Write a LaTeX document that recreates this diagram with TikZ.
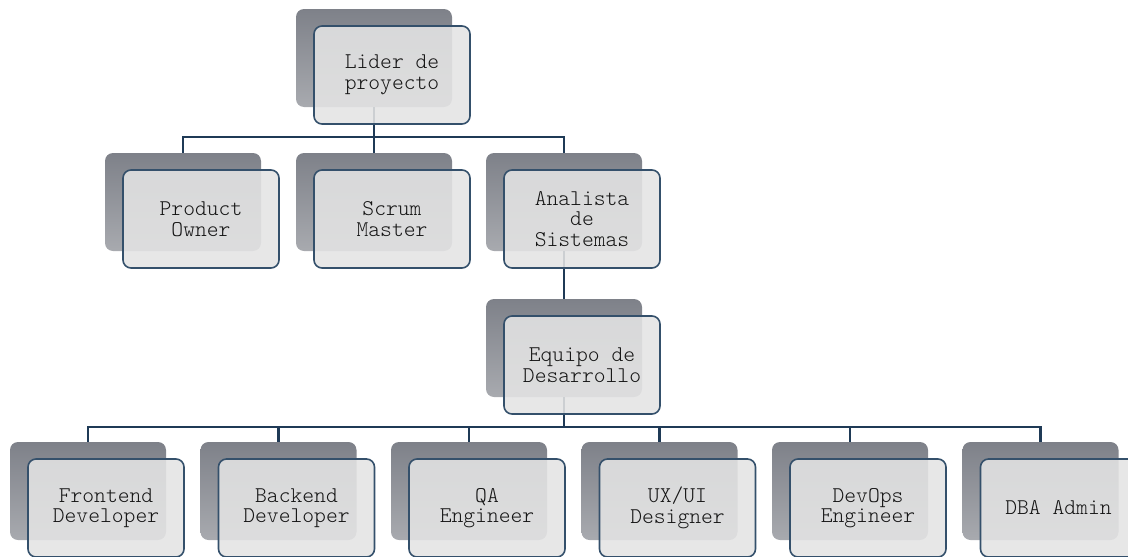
\documentclass[tikz,border=0pt]{standalone}
\usepackage{fontspec}
\definecolor{linec}{HTML}{1F3A56}
\definecolor{frontline}{HTML}{34506B}
\definecolor{frontfill}{HTML}{E4E4E4}
\definecolor{backtop}{HTML}{7E8189}
\definecolor{backbot}{HTML}{A8AAAF}
\definecolor{textc}{HTML}{151515}
\tikzset{
  backbox/.style={rounded corners=8pt, minimum width=156pt, minimum height=98pt, inner sep=0pt,
    top color=backtop, bottom color=backbot, draw=none},
  frontbox/.style={rounded corners=8pt, minimum width=156pt, minimum height=98pt, inner sep=0pt,
    fill=frontfill, fill opacity=0.88, text opacity=1, draw=frontline, line width=1.6pt,
    align=center, text=textc, font=\ttfamily\fontseries{l}\fontsize{22.5}{20.5}\selectfont},
  link/.style={draw=linec, line width=2.4pt}
}
\newcommand\backat[3]{\node[backbox] (#1) at (#2+78,#3+49) {};}
\newcommand\frontat[4]{\node[frontbox] (#1) at (#2+96,#3+66) {#4};}
\begin{document}
\begin{tikzpicture}[x=1pt,y=-1pt]
\useasboundingbox (0,0) rectangle (1128,557);
% back boxes
\backat{lidb}{296}{9}
\backat{pob}{105}{153}
\backat{smb}{296}{153}
\backat{anb}{486}{153}
\backat{eqb}{486}{299}
\backat{feb}{10}{442}
\backat{beb}{200.5}{442}
\backat{qab}{391}{442}
\backat{uxb}{581.5}{442}
\backat{dob}{772}{442}
\backat{dbb}{962.5}{442}
% connectors
\coordinate (j1) at (lidb.south |- 0,137);
\coordinate (j2) at (eqb.south |- 0,427);
\draw[link] (lidb.south) -- (j1);
\draw[link] (pob.north) |- (j1) -| (anb.north);
\draw[link] (smb.north) -- (smb.north |- j1);
\draw[link] (anb.south) -- (eqb.north);
\draw[link] (eqb.south) -- (j2);
\draw[link] (feb.north) |- (j2) -| (dbb.north);
\draw[link] (beb.north) -- (beb.north |- j2);
\draw[link] (qab.north) -- (qab.north |- j2);
\draw[link] (uxb.north) -- (uxb.north |- j2);
\draw[link] (dob.north) -- (dob.north |- j2);
% front boxes
\frontat{lid}{296}{9}{Lider de\\proyecto}
\frontat{po}{105}{153}{Product\\Owner}
\frontat{sm}{296}{153}{Scrum\\Master}
\frontat{an}{486}{153}{Analista\\de\\Sistemas}
\frontat{eq}{486}{299}{Equipo de\\Desarrollo}
\frontat{fe}{10}{442}{Frontend\\Developer}
\frontat{be}{200.5}{442}{Backend\\Developer}
\frontat{qa}{391}{442}{QA\\Engineer}
\frontat{ux}{581.5}{442}{UX/UI\\Designer}
\frontat{do}{772}{442}{DevOps\\Engineer}
\frontat{db}{962.5}{442}{DBA Admin}
\end{tikzpicture}
\end{document}
